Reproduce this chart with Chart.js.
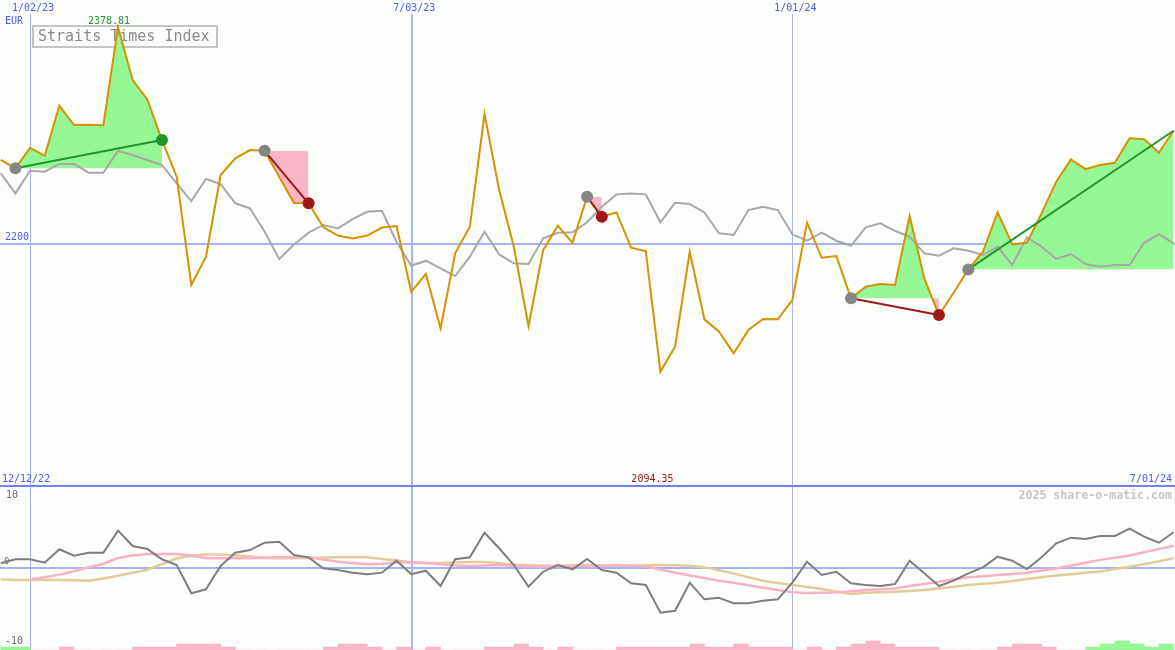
<!DOCTYPE html>
<html>
<head>
<meta charset="utf-8">
<script src="https://cdn.jsdelivr.net/npm/chart.js@4.4.1/dist/chart.umd.min.js"></script>
<style>
  html, body { margin: 0; padding: 0; background: #fcfefc; }
  #wrap { position: relative; width: 1175px; height: 650px; overflow: hidden; }
  canvas { position: absolute; left: 0; }
</style>
</head>
<body>
<div id="wrap">
  <canvas id="priceChart" width="1175" height="487" style="top:0"></canvas>
  <canvas id="oscChart" width="1175" height="163" style="top:487px"></canvas>
</div>
<script>
// Weekly closes of the Straits Times Index (81 weeks)
const sti = [2269.2, 2262.3, 2279.3, 2272.7, 2314.0, 2298.1, 2298.4, 2297.9, 2378.81, 2335.3,
  2319.3, 2285.7, 2255.4, 2165.9, 2189.3, 2256.8, 2270.6, 2277.4, 2276.8, 2255.1,
  2233.6, 2233.4, 2213.8, 2206.8, 2204.3, 2206.8, 2213.4, 2214.6, 2160.3, 2175.0,
  2130.1, 2192.1, 2214.0, 2307.2, 2244.4, 2197.5, 2132.0, 2194.8, 2214.9, 2200.8,
  2238.8, 2222.3, 2225.9, 2196.7, 2194.0, 2094.35, 2114.9, 2193.4, 2137.5, 2127.3,
  2109.4, 2128.7, 2137.8, 2137.6, 2153.5, 2217.4, 2188.4, 2189.8, 2154.9, 2164.5,
  2166.7, 2165.9, 2222.9, 2171.4, 2141.1, 2159.5, 2178.8, 2193.4, 2225.9, 2199.5,
  2200.8, 2225.1, 2251.2, 2269.7, 2261.7, 2265.0, 2266.9, 2287.1, 2286.3, 2275.2,
  2293.4];

// Comparison index, rescaled onto the same axis (grey line)
const compare = [2258.2, 2241.6, 2260.3, 2259.5, 2265.9, 2265.9, 2258.7, 2258.7, 2276.8, 2273.3,
  2269.2, 2265.0, 2249.9, 2235.3, 2253.5, 2249.3, 2233.4, 2229.3, 2209.9, 2187.4,
  2199.3, 2209.1, 2215.5, 2212.7, 2220.4, 2226.4, 2227.3, 2201.7, 2181.8, 2186.0,
  2179.7, 2173.3, 2189.3, 2209.9, 2191.2, 2183.8, 2183.2, 2204.5, 2209.1, 2209.4,
  2217.8, 2230.6, 2240.8, 2241.6, 2240.8, 2217.7, 2233.9, 2232.8, 2225.9, 2208.6,
  2207.2, 2227.8, 2230.6, 2227.8, 2207.8, 2202.5, 2209.1, 2202.5, 2198.3, 2213.6,
  2216.9, 2210.7, 2205.8, 2192.1, 2190.1, 2196.2, 2194.2, 2190.7, 2197.5, 2182.4,
  2205.3, 2197.5, 2187.4, 2191.5, 2183.2, 2181.0, 2182.4, 2182.4, 2200.8, 2208.0,
  2200.3];

// Lower panel: momentum and its two averages
const momentum = [0.60, 1.15, 1.15, 0.68, 2.52, 1.64, 2.05, 2.05, 5.07, 2.97,
  2.56, 1.15, 0.37, -3.51, -2.96, 0.23, 2.05, 2.42, 3.42, 3.56,
  1.74, 1.42, -0.08, -0.32, -0.68, -0.90, -0.68, 0.96, -0.90, -0.41,
  -2.51, 1.15, 1.42, 4.79, 2.66, 0.37, -2.60, -0.55, 0.37, -0.22,
  1.19, -0.32, -0.68, -2.14, -2.37, -6.16, -5.89, -2.05, -4.33, -4.11,
  -4.88, -4.88, -4.52, -4.33, -2.05, 0.82, -1.00, -0.55, -2.14, -2.37,
  -2.51, -2.23, 0.96, -0.77, -2.51, -1.78, -0.77, 0.05, 1.51, 0.96,
  -0.18, 1.42, 3.34, 4.11, 3.93, 4.34, 4.34, 5.34, 4.25, 3.42,
  4.85];
const fastAvg = [null, null, -1.59, -1.30, -0.95, -0.49, 0.07, 0.55, 1.33, 1.68,
  1.88, 1.88, 1.88, 1.67, 1.29, 1.29, 1.29, 1.29, 1.38, 1.42,
  1.42, 1.42, 1.11, 0.82, 0.64, 0.47, 0.55, 0.71, 0.75, 0.66,
  0.47, 0.30, 0.23, 0.30, 0.37, 0.27, 0.16, 0.16, 0.21, 0.23,
  0.23, 0.23, 0.37, 0.27, 0.16, -0.26, -0.70, -1.07, -1.42, -1.78,
  -2.07, -2.40, -2.74, -3.05, -3.37, -3.47, -3.44, -3.38, -3.22, -3.05,
  -2.96, -2.85, -2.51, -2.23, -1.92, -1.59, -1.30, -1.16, -1.01, -0.85,
  -0.73, -0.38, -0.10, 0.29, 0.68, 1.07, 1.37, 1.68, 2.12, 2.56,
  3.00];
const slowAvg = [-1.59, -1.68, -1.68, -1.68, -1.68, -1.71, -1.77, -1.48, -1.10, -0.70,
  -0.29, 0.51, 1.25, 1.64, 1.85, 1.79, 1.71, 1.52, 1.32, 1.29,
  1.29, 1.34, 1.41, 1.42, 1.42, 1.42, 1.19, 1.00, 0.74, 0.64,
  0.64, 0.71, 0.78, 0.79, 0.60, 0.40, 0.32, 0.26, 0.26, 0.33,
  0.36, 0.29, 0.23, 0.27, 0.32, 0.36, 0.33, 0.27, 0.07, -0.34,
  -0.79, -1.30, -1.79, -2.11, -2.37, -2.64, -2.93, -3.26, -3.59, -3.42,
  -3.37, -3.30, -3.19, -3.05, -2.86, -2.60, -2.36, -2.21, -2.07, -1.81,
  -1.55, -1.30, -1.08, -0.89, -0.70, -0.53, -0.19, 0.12, 0.48, 0.88,
  1.29];

// Signal strength per week (between closes): + green, - pink
const barLevels = [1, 1, 0, 0, -1, 0, 0, 0, 0, -1,
  -1, -1, -2, -2, -2, -1, 0, 0, 0, 0,
  0, 0, -1, -2, -2, -1, 0, -1, 0, -1,
  0, 0, 0, -1, -1, -2, -1, 0, -1, 0,
  0, 0, -1, -1, -1, -1, -1, -2, -1, -1,
  -2, -1, -1, -1, 0, -1, 0, -1, -2, -3,
  -2, -1, -1, -1, 0, 0, 0, 0, -1, -2,
  -2, -1, 0, 0, 1, 2, 3, 2, 1, 2];

// Date grid
const gridWeeks = [2, 28, 54];
const gridLabels = ['1/02/23', '7/03/23', '1/01/24'];
const firstLabel = '12/12/22';
const lastLabel = '7/01/24';

// Trades (week index of entry / exit)
const tradeStart = [1, 18, 40, 58, 66];
const tradeEnd = [11, 21, 41, 64, 80];

const MONO = '"DejaVu Sans Mono", "Liberation Mono", monospace';
const BG = '#fcfefc';
const GRID = '#a6b2f4';
const LABEL_BLUE = '#4a5af0';
const GAIN_FILL = '#95f895';
const LOSS_FILL = '#f9b6c9';
const GAIN_LINE = '#23962a';
const LOSS_LINE = '#a01818';

const pts = arr => arr.map((v, i) => ({ x: i, y: v }));
const xRange = { type: 'linear', min: -0.05, max: 80.1, offset: false, display: false };

// ---------- upper panel ----------
const priceSets = [];
tradeStart.forEach((s, k) => {
  const e = tradeEnd[k];
  const base = sti[s];
  const won = sti[e] > base;
  priceSets.push({
    data: sti.slice(s, e + 1).map((v, j) => ({ x: s + j, y: v })),
    borderWidth: 0, pointRadius: 0,
    fill: { target: { value: base }, above: GAIN_FILL, below: LOSS_FILL },
    order: 10
  });
  priceSets.push({
    data: [{ x: s, y: base }, { x: e, y: sti[e] }],
    borderColor: won ? GAIN_LINE : LOSS_LINE, borderWidth: 2,
    pointRadius: [6, e === sti.length - 1 ? 0 : 6],
    pointBackgroundColor: ['#858585', won ? GAIN_LINE : LOSS_LINE],
    pointBorderWidth: 0, fill: false, order: 1
  });
});
priceSets.push({ data: pts(compare), borderColor: '#a8a8a8', borderWidth: 2, pointRadius: 0, fill: false, order: 4 });
priceSets.push({ data: pts(sti), borderColor: '#d69200', borderWidth: 2, pointRadius: 0, fill: false, order: 3 });

const priceDecor = {
  id: 'priceDecor',
  beforeDraw(chart) {
    const ctx = chart.ctx;
    ctx.save();
    ctx.fillStyle = BG;
    ctx.fillRect(0, 0, chart.width, chart.height);
    ctx.restore();
  },
  beforeDatasetsDraw(chart) {
    const { ctx, scales: { x, y } } = chart;
    ctx.save();
    ctx.fillStyle = GRID;
    gridWeeks.forEach((w, k) => {
      const px = Math.round(x.getPixelForValue(w));
      ctx.fillRect(px, 14, k === 1 ? 2 : 1, chart.height - 14);
    });
    const py = Math.round(y.getPixelForValue(2200));
    ctx.fillRect(0, py - 1, chart.width, 2);
    // title box
    ctx.strokeStyle = '#c4c4c4';
    ctx.lineWidth = 2;
    ctx.strokeRect(33, 26, 184, 21);
    ctx.fillStyle = '#8a8a8a';
    ctx.font = '15px ' + MONO;
    ctx.textBaseline = 'middle';
    ctx.textAlign = 'left';
    ctx.fillText('Straits Times Index', 38, 37);
    ctx.restore();
  },
  afterDatasetsDraw(chart) {
    const { ctx, scales: { x, y } } = chart;
    ctx.save();
    ctx.font = '10px ' + MONO;
    ctx.textBaseline = 'middle';
    ctx.fillStyle = LABEL_BLUE;
    ctx.textAlign = 'center';
    gridWeeks.forEach((w, k) => ctx.fillText(gridLabels[k], x.getPixelForValue(w) + 3, 8));
    ctx.textAlign = 'left';
    ctx.fillText('EUR', 5, 21);
    ctx.fillText('2200', 5, y.getPixelForValue(2200) - 6);
    ctx.fillText(firstLabel, 2, 479);
    ctx.textAlign = 'right';
    ctx.fillText(lastLabel, 1172, 479);
    // high / low labels
    const hi = Math.max(...sti), lo = Math.min(...sti);
    ctx.textAlign = 'center';
    ctx.fillStyle = GAIN_LINE;
    ctx.fillText(hi.toFixed(2), x.getPixelForValue(sti.indexOf(hi)) - 9, 21);
    ctx.fillStyle = LOSS_LINE;
    ctx.fillText(lo.toFixed(2), x.getPixelForValue(sti.indexOf(lo)) - 8, 479);
    // panel separator
    ctx.fillStyle = '#7282f0';
    ctx.fillRect(0, 485, chart.width, 2);
    ctx.restore();
  }
};

new Chart(document.getElementById('priceChart'), {
  type: 'line',
  data: { datasets: priceSets },
  options: {
    responsive: false, animation: false, devicePixelRatio: 1,
    layout: { padding: 0, autoPadding: false },
    plugins: { legend: { display: false }, tooltip: { enabled: false } },
    elements: { line: { tension: 0 } },
    scales: { x: xRange, y: { min: 1999, max: 2401.4, display: false } }
  },
  plugins: [priceDecor]
});

// ---------- lower panel ----------
const oscDecor = {
  id: 'oscDecor',
  beforeDraw(chart) {
    const ctx = chart.ctx;
    ctx.save();
    ctx.fillStyle = BG;
    ctx.fillRect(0, 0, chart.width, chart.height);
    ctx.restore();
  },
  beforeDatasetsDraw(chart) {
    const { ctx, scales: { x, y } } = chart;
    ctx.save();
    ctx.fillStyle = GRID;
    gridWeeks.forEach((w, k) => {
      const px = Math.round(x.getPixelForValue(w));
      ctx.fillRect(px, 0, k === 1 ? 2 : 1, chart.height);
    });
    ctx.fillRect(0, Math.round(y.getPixelForValue(0)) - 1, chart.width, 2);
    ctx.font = '10px ' + MONO;
    ctx.textBaseline = 'middle';
    ctx.textAlign = 'left';
    ctx.fillStyle = '#6a6a6a';
    ctx.fillText('10', 6, y.getPixelForValue(10) + 1);
    ctx.fillText('-10', 5, y.getPixelForValue(-10) + 1);
    ctx.font = '9px ' + MONO;
    ctx.fillText('0', 4, y.getPixelForValue(0) - 6);
    ctx.font = 'bold 11.6px ' + MONO;
    ctx.textAlign = 'right';
    ctx.fillStyle = '#c6c6c6';
    ctx.fillText('2025 share-o-matic.com', 1172, 9);
    ctx.restore();
  }
};

new Chart(document.getElementById('oscChart'), {
  type: 'line',
  data: {
    datasets: [
      { data: pts(momentum), borderColor: '#7e7e7e', borderWidth: 2, pointRadius: 0, order: 1 },
      { data: pts(fastAvg), borderColor: '#f8b2c6', borderWidth: 2.5, pointRadius: 0, order: 2 },
      { data: pts(slowAvg), borderColor: '#e2cc9c', borderWidth: 2.5, pointRadius: 0, order: 3 },
      {
        type: 'bar', yAxisID: 'yb',
        data: barLevels.map((v, j) => ({ x: j + 0.5, y: Math.abs(v) })),
        backgroundColor: barLevels.map(v => v > 0 ? GAIN_FILL : LOSS_FILL),
        barPercentage: 1, categoryPercentage: 1, borderWidth: 0, order: 5
      }
    ]
  },
  options: {
    responsive: false, animation: false, devicePixelRatio: 1,
    layout: { padding: 0, autoPadding: false },
    plugins: { legend: { display: false }, tooltip: { enabled: false } },
    elements: { line: { tension: 0, fill: false } },
    scales: {
      x: xRange,
      y: { min: -11.27, max: 11.05, display: false },
      yb: { min: 0, max: 163 / 3, display: false }
    }
  },
  plugins: [oscDecor]
});
</script>
</body>
</html>
